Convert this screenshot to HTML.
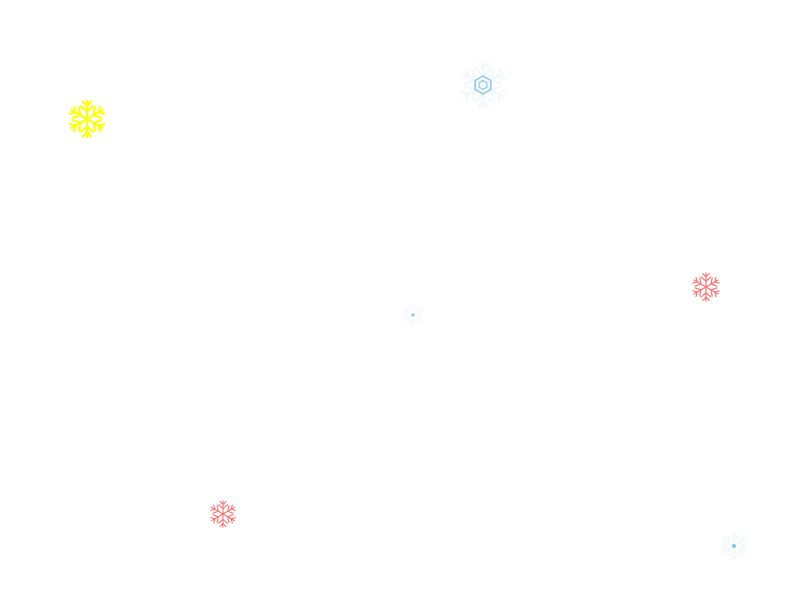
<!DOCTYPE html>
<html><head><style>html,body{margin:0;padding:0;background:#fff;width:800px;height:600px;overflow:hidden}</style></head>
<body>
<svg width="800" height="600" viewBox="0 0 800 600" xmlns="http://www.w3.org/2000/svg">
<defs>
<g id="arm">
<line x1="0" y1="0" x2="0" y2="-10" />
<line x1="0" y1="-4" x2="-3.5" y2="-7" />
<line x1="0" y1="-4" x2="3.5" y2="-7" />
<line x1="0" y1="-7" x2="-2.5" y2="-9.5" />
<line x1="0" y1="-7" x2="2.5" y2="-9.5" />
</g>
<g id="flake">
<use href="#arm"/>
<use href="#arm" transform="rotate(60)"/>
<use href="#arm" transform="rotate(120)"/>
<use href="#arm" transform="rotate(180)"/>
<use href="#arm" transform="rotate(240)"/>
<use href="#arm" transform="rotate(300)"/>
</g>
</defs>
<g stroke="#ffff00" stroke-width="1.1" fill="none" transform="translate(87,119) scale(1.9)"><use href="#flake"/></g>
<g stroke="#ff7070" stroke-width="0.8" fill="none" transform="translate(706,287) scale(1.45)"><use href="#flake"/></g>
<g stroke="#ff7070" stroke-width="0.8" fill="none" transform="translate(223,514) scale(1.35)"><use href="#flake"/></g>
<g stroke="#f3f8fc" stroke-width="1" fill="none" transform="translate(483,85) scale(2.4)"><use href="#flake"/></g>
<g transform="translate(483,85)">
<polygon points="0,-9 7.8,-4.5 7.8,4.5 0,9 -7.8,4.5 -7.8,-4.5" fill="none" stroke="#9ccbee" stroke-width="1.8"/>
<polygon points="0,-4.5 3.9,-2.25 3.9,2.25 0,4.5 -3.9,2.25 -3.9,-2.25" fill="none" stroke="#9ccbee" stroke-width="1.3"/>
</g>
<g stroke="#f4f8fc" stroke-width="1.2" fill="none" transform="translate(413,315) scale(1.1)"><use href="#flake"/></g>
<circle cx="413" cy="315" r="1.5" fill="#8cc4ec"/>
<g stroke="#f4f8fc" stroke-width="1.2" fill="none" transform="translate(734,546) scale(1.4)"><use href="#flake"/></g>
<circle cx="734" cy="546" r="2" fill="#8cc4ec"/>
</svg>
</body></html>
